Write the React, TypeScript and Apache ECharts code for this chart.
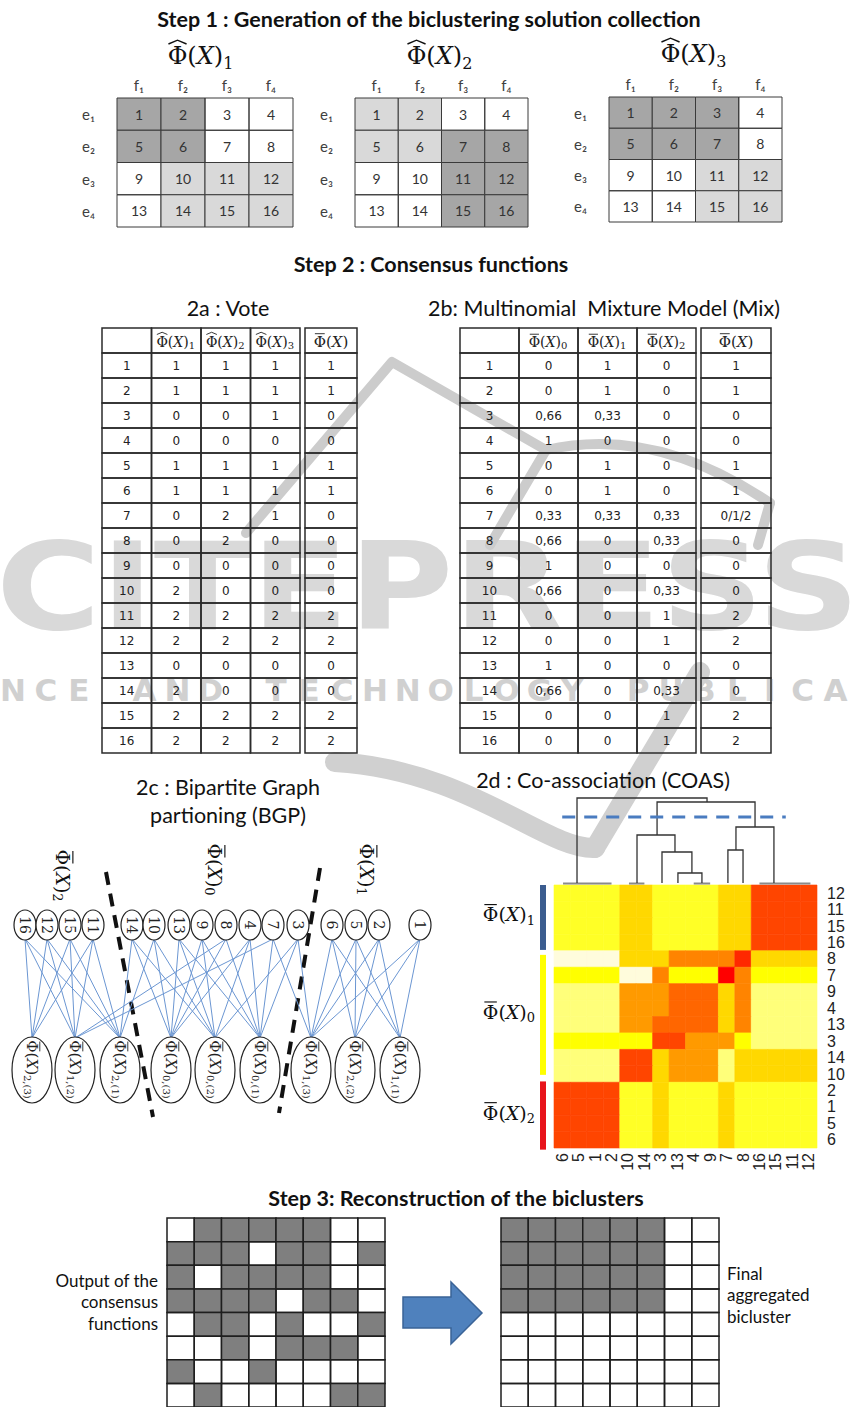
import React, { useEffect, useRef } from "react";
import * as echarts from "echarts";

const W = 850;
const H = 1407;

const FONT_UI = "Lato, 'Open Sans', sans-serif";
const FONT_SERIF = "'DejaVu Serif', 'Liberation Serif', serif";
const FONT_TABLE = "'DejaVu Sans', Verdana, sans-serif";
const FONT_NUM = "'Liberation Sans', Arial, sans-serif";

// ---------- Step 1 : biclustering solutions ----------
const elements = ["1", "2", "3", "4", "5", "6", "7", "8", "9", "10", "11", "12", "13", "14", "15", "16"];
const featureLabels = ["f₁", "f₂", "f₃", "f₄"];
const objectLabels = ["e₁", "e₂", "e₃", "e₄"];
const vote1 = [1, 1, 0, 0, 1, 1, 0, 0, 0, 2, 2, 2, 0, 2, 2, 2];
const vote2 = [1, 1, 0, 0, 1, 1, 2, 2, 0, 0, 2, 2, 0, 0, 2, 2];
const vote3 = [1, 1, 1, 0, 1, 1, 1, 0, 0, 0, 2, 2, 0, 0, 2, 2];
const voteResult = ["1", "1", "0", "0", "1", "1", "0", "0", "0", "0", "2", "2", "0", "0", "2", "2"];
const CLEAR = "rgba(255,255,255,0)";
const DARK = "#a6a6a6";
const LIGHT = "#d9d9d9";
const step1Shades = [
  [CLEAR, DARK, LIGHT],
  [CLEAR, LIGHT, DARK],
  [CLEAR, DARK, LIGHT],
];

// ---------- Step 2b : mixture model ----------
const mix0 = ["0", "0", "0,66", "1", "0", "0", "0,33", "0,66", "1", "0,66", "0", "0", "1", "0,66", "0", "0"];
const mix1 = ["1", "1", "0,33", "0", "1", "1", "0,33", "0", "0", "0", "0", "0", "0", "0", "0", "0"];
const mix2 = ["0", "0", "0", "0", "0", "0", "0,33", "0,33", "0", "0,33", "1", "1", "0", "0,33", "1", "1"];
const mixResult = ["1", "1", "0", "0", "1", "1", "0/1/2", "0", "0", "0", "2", "2", "0", "0", "2", "2"];

// ---------- Step 2d : co-association heatmap ----------
const coasColLabels = ["6", "5", "1", "2", "10", "14", "3", "13", "4", "9", "7", "8", "16", "15", "11", "12"];
const coasRowLabels = ["12", "11", "15", "16", "8", "7", "9", "4", "13", "3", "14", "10", "2", "1", "5", "6"];
const coasLevels = [
  "YYYYGGYYYYGGRRRR",
  "YYYYGGYYYYGGRRRR",
  "YYYYGGYYYYGGRRRR",
  "YYYYGGYYYYGGRRRR",
  "PPPPGGGQQQQSGGGG",
  "BBBBPPQBBBXQBBBB",
  "LLLLOOODDDGQLLLL",
  "LLLLOOODDDGQLLLL",
  "LLLLOODDDDGQLLLL",
  "BBBBBBRROOOBLLLL",
  "LLLLRRGOOOLGGGGG",
  "LLLLRRGOOOLGGGGG",
  "RRRRYYGYYYGYYYYY",
  "RRRRYYGYYYGYYYYY",
  "RRRRYYGYYYGYYYYY",
  "RRRRYYGYYYGYYYYY",
];
const coasPalette: Record<string, string> = {
  P: "#fffcdc",
  L: "#ffff7a",
  Y: "#ffff26",
  B: "#ffff00",
  G: "#ffd800",
  O: "#ff9a00",
  Q: "#ff8400",
  D: "#ff6600",
  R: "#ff4500",
  S: "#ff2800",
  X: "#ff0000",
};
// dendrogram links: [xLeft, xRight, heightTop, heightLeft, heightRight] (x in column units)
const dendroLinks = [
  [1.4, 9.31, 87, 2, 83],
  [6.27, 12.23, 83, 50, 58],
  [5.05, 7.36, 50, 2, 33],
  [6.57, 8.39, 33, 2, 12],
  [7.54, 9.0, 12, 2, 2],
  [10.58, 11.5, 35, 2, 2],
  [11.07, 13.38, 58, 35, 2],
];
const dendroLeafBars = [
  [0.55, 3.5],
  [4.56, 5.5],
  [8.5, 9.5],
  [12.5, 15.6],
];
const dendroCut = [0.5, 14.1, 68];
// cluster bands along rows: [start, end, colour, consensus index]
const clusterBands: [number, number, string, string][] = [
  [0, 3.95, "#3b5c8f", "1"],
  [4.25, 11.55, "#ffff00", "0"],
  [11.95, 16.1, "#e8141c", "2"],
];

// ---------- Step 2c : bipartite graph ----------
const topNodeOrder = [16, 12, 15, 11, 14, 10, 13, 9, 8, 4, 7, 3, 6, 5, 2, 1];
const topNodeX = [25, 47, 70, 93, 132, 154, 179, 202, 226, 250, 273, 298, 332, 356, 379, 420];
// bottom nodes: [solution (0-based), cluster, x, label subscript]
const bottomNodes: [number, number, number, string][] = [
  [2, 2, 32, "2,(3)"],
  [1, 2, 75, "1,(2)"],
  [0, 2, 120, "2,(1)"],
  [2, 0, 171, "0,(3)"],
  [1, 0, 215, "0,(2)"],
  [0, 0, 260, "0,(1)"],
  [2, 1, 311, "1,(3)"],
  [1, 1, 355, "2,(2)"],
  [0, 1, 400, "1,(1)"],
];

// ---------- Step 3 ----------
const consensusMatrix = [
  [0, 1, 1, 1, 1, 1, 0, 0],
  [1, 1, 1, 0, 1, 1, 0, 1],
  [1, 0, 1, 1, 1, 1, 0, 0],
  [1, 1, 1, 1, 0, 1, 1, 0],
  [0, 1, 1, 0, 1, 0, 0, 1],
  [0, 0, 1, 0, 1, 1, 1, 0],
  [1, 0, 0, 1, 0, 0, 0, 0],
  [0, 1, 0, 0, 0, 0, 1, 1],
];
const finalMatrix = [
  [1, 1, 1, 1, 1, 1, 0, 0],
  [1, 1, 1, 1, 1, 1, 0, 0],
  [1, 1, 1, 1, 1, 1, 0, 0],
  [1, 1, 1, 1, 1, 1, 0, 0],
  [0, 0, 0, 0, 0, 0, 0, 0],
  [0, 0, 0, 0, 0, 0, 0, 0],
  [0, 0, 0, 0, 0, 0, 0, 0],
  [0, 0, 0, 0, 0, 0, 0, 0],
];

// ---------- helpers ----------
let measureCtx: CanvasRenderingContext2D | null = null;
function tw(text: string, size: number, style = "normal") {
  if (!measureCtx) measureCtx = document.createElement("canvas").getContext("2d");
  if (!measureCtx) return text.length * size * 0.6;
  measureCtx.font = `${style} ${size}px ${FONT_SERIF}`;
  return measureCtx.measureText(text).width;
}

type PhiSpec = { mark: "hat" | "bar"; sub: string; size: number; color?: string; align?: "left" | "center" | "right" };

function phiParts(p: PhiSpec) {
  const color = p.color || "#222";
  const size = p.size;
  const subSize = Math.round(size * 0.68);
  const wPhi = tw("Φ", size);
  const total = wPhi + tw("(", size) + tw("X", size, "italic") + tw(")", size) + (p.sub ? tw(p.sub, subSize) + 1 : 0);
  const align = p.align || "center";
  const x0 = align === "center" ? -total / 2 : align === "right" ? -total : 0;
  const lh = Math.round(size * 1.3);
  const text = p.sub ? `{a|Φ(}{i|X}{a|)}{s|${p.sub}}` : `{a|Φ(}{i|X}{a|)}`;
  const rich = {
    a: { fontFamily: FONT_SERIF, fontSize: size, fill: color, lineHeight: lh },
    i: { fontFamily: FONT_SERIF, fontStyle: "italic", fontSize: size, fill: color, lineHeight: lh },
    s: { fontFamily: FONT_SERIF, fontSize: subSize, fill: color, verticalAlign: "bottom", lineHeight: subSize },
  };
  const cx = x0 + wPhi / 2;
  const lw = Math.max(0.9, size * 0.06);
  const markEl =
    p.mark === "hat"
      ? {
          type: "polyline",
          shape: { points: [[cx - wPhi * 0.46, -size * 0.5], [cx, -size * 0.66], [cx + wPhi * 0.46, -size * 0.5]] },
          style: { stroke: color, lineWidth: lw, fill: "none" },
        }
      : {
          type: "line",
          shape: { x1: cx - wPhi * 0.4, y1: -size * 0.52, x2: cx + wPhi * 0.4, y2: -size * 0.52 },
          style: { stroke: color, lineWidth: lw },
        };
  return [
    { type: "text", x: x0, y: 0, style: { text, rich, textAlign: "left", textVerticalAlign: "middle" } },
    markEl,
  ];
}

type Cell = { col: number; row: number; text?: string; phi?: PhiSpec; fill?: string };

function catAxis(data: string[], extra: any = {}) {
  return {
    type: "category",
    data,
    axisLine: { show: false },
    axisTick: { show: false },
    splitLine: { show: false },
    axisLabel: { show: false },
    ...extra,
  };
}
function valAxis(min: number, max: number, inverse = false) {
  return { type: "value", min, max, inverse, show: false, splitLine: { show: false } };
}

function cellSeries(gi: number, cells: Cell[], st: { stroke: string; lw: number; fontSize: number; fontFamily: string; color?: string }) {
  return {
    type: "custom",
    coordinateSystem: "cartesian2d",
    xAxisIndex: gi,
    yAxisIndex: gi,
    silent: true,
    data: cells.map((c) => [c.col, c.row]),
    renderItem: (params: any, api: any) => {
      const c = cells[params.dataIndex];
      const p = api.coord([api.value(0), api.value(1)]);
      const s = api.size([1, 1]);
      const children: any[] = [
        {
          type: "rect",
          shape: { x: p[0] - s[0] / 2, y: p[1] - s[1] / 2, width: s[0], height: s[1] },
          style: { fill: c.fill || CLEAR, stroke: st.stroke, lineWidth: st.lw },
        },
      ];
      if (c.phi) {
        children.push({ type: "group", x: p[0], y: p[1] + 1, children: phiParts(c.phi) });
      } else if (c.text) {
        children.push({
          type: "text",
          x: p[0],
          y: p[1],
          style: {
            text: c.text,
            textAlign: "center",
            textVerticalAlign: "middle",
            fontSize: st.fontSize,
            fontFamily: st.fontFamily,
            fill: st.color || "#222",
          },
        });
      }
      return { type: "group", children };
    },
  };
}

function buildOption() {
  const grids: any[] = [];
  const xAxes: any[] = [];
  const yAxes: any[] = [];
  const series: any[] = [];
  const addGrid = (rect: any, xa: any, ya: any) => {
    const idx = grids.length;
    grids.push({ ...rect, containLabel: false, show: false });
    xAxes.push({ ...xa, gridIndex: idx });
    yAxes.push({ ...ya, gridIndex: idx });
    return idx;
  };

  // ----- Step 1 tables -----
  const step1Rects = [
    { left: 117, top: 98, width: 176, height: 129 },
    { left: 355, top: 98, width: 173, height: 129 },
    { left: 609, top: 97, width: 173, height: 125 },
  ];
  const step1Votes = [vote1, vote2, vote3];
  step1Rects.forEach((r, t) => {
    const gi = addGrid(
      r,
      catAxis(featureLabels, {
        position: "top",
        axisLabel: { show: true, margin: 6, fontSize: 15, fontFamily: FONT_UI, color: "#404040" },
      }),
      catAxis(objectLabels, {
        inverse: true,
        axisLabel: { show: true, margin: 22, fontSize: 15, fontFamily: FONT_UI, color: "#404040" },
      })
    );
    const cells: Cell[] = elements.map((e, i) => ({
      col: i % 4,
      row: Math.floor(i / 4),
      text: e,
      fill: step1Shades[t][step1Votes[t][i]],
    }));
    series.push(cellSeries(gi, cells, { stroke: "#3a3a3a", lw: 1, fontSize: 14, fontFamily: FONT_UI, color: "#333" }));
  });

  // ----- Vote table -----
  const rowsCat = ["h", ...elements];
  {
    const gi = addGrid({ left: 102, top: 328, width: 198, height: 425 }, catAxis(["id", "s1", "s2", "s3"]), catAxis(rowsCat, { inverse: true }));
    const cells: Cell[] = [{ col: 0, row: 0 }];
    ["1", "2", "3"].forEach((sub, k) => {
      cells.push({ col: k + 1, row: 0, phi: { mark: "hat", sub, size: 14 } });
    });
    elements.forEach((e, i) => {
      cells.push({ col: 0, row: i + 1, text: e });
      cells.push({ col: 1, row: i + 1, text: String(vote1[i]) });
      cells.push({ col: 2, row: i + 1, text: String(vote2[i]) });
      cells.push({ col: 3, row: i + 1, text: String(vote3[i]) });
    });
    series.push(cellSeries(gi, cells, { stroke: "#2b2b2b", lw: 1.5, fontSize: 12, fontFamily: FONT_TABLE }));
    const gr = addGrid({ left: 305, top: 328, width: 52, height: 425 }, catAxis(["r"]), catAxis(rowsCat, { inverse: true }));
    const rc: Cell[] = [{ col: 0, row: 0, phi: { mark: "bar", sub: "", size: 15 } }];
    voteResult.forEach((v, i) => rc.push({ col: 0, row: i + 1, text: v }));
    series.push(cellSeries(gr, rc, { stroke: "#2b2b2b", lw: 1.5, fontSize: 12, fontFamily: FONT_TABLE }));
  }

  // ----- Mix table -----
  {
    const gi = addGrid({ left: 460, top: 328, width: 236, height: 425 }, catAxis(["id", "c0", "c1", "c2"]), catAxis(rowsCat, { inverse: true }));
    const cells: Cell[] = [{ col: 0, row: 0 }];
    ["0", "1", "2"].forEach((sub, k) => {
      cells.push({ col: k + 1, row: 0, phi: { mark: "bar", sub, size: 14 } });
    });
    elements.forEach((e, i) => {
      cells.push({ col: 0, row: i + 1, text: e });
      cells.push({ col: 1, row: i + 1, text: mix0[i] });
      cells.push({ col: 2, row: i + 1, text: mix1[i] });
      cells.push({ col: 3, row: i + 1, text: mix2[i] });
    });
    series.push(cellSeries(gi, cells, { stroke: "#2b2b2b", lw: 1.5, fontSize: 12, fontFamily: FONT_TABLE }));
    const gr = addGrid({ left: 701, top: 328, width: 70, height: 425 }, catAxis(["r"]), catAxis(rowsCat, { inverse: true }));
    const rc: Cell[] = [{ col: 0, row: 0, phi: { mark: "bar", sub: "", size: 15 } }];
    mixResult.forEach((v, i) => rc.push({ col: 0, row: i + 1, text: v }));
    series.push(cellSeries(gr, rc, { stroke: "#2b2b2b", lw: 1.5, fontSize: 12, fontFamily: FONT_TABLE }));
  }

  // ----- COAS heatmap -----
  {
    const gi = addGrid(
      { left: 554, top: 885, width: 263, height: 263 },
      catAxis(coasColLabels, {
        position: "bottom",
        axisLabel: { show: true, rotate: 90, interval: 0, margin: 5, fontSize: 16, fontFamily: FONT_NUM, color: "#222" },
      }),
      catAxis(coasRowLabels, {
        position: "right",
        inverse: true,
        axisLabel: { show: true, interval: 0, margin: 10, fontSize: 16, fontFamily: FONT_NUM, color: "#222" },
      })
    );
    const cells: { col: number; row: number; fill: string }[] = [];
    coasLevels.forEach((rowStr, r) => {
      rowStr.split("").forEach((ch, c) => cells.push({ col: c, row: r, fill: coasPalette[ch] }));
    });
    series.push({
      type: "custom",
      xAxisIndex: gi,
      yAxisIndex: gi,
      silent: true,
      data: cells.map((c) => [c.col, c.row]),
      renderItem: (params: any, api: any) => {
        const c = cells[params.dataIndex];
        const p = api.coord([api.value(0), api.value(1)]);
        const s = api.size([1, 1]);
        return {
          type: "rect",
          shape: { x: p[0] - s[0] / 2, y: p[1] - s[1] / 2, width: s[0], height: s[1] },
          style: { fill: c.fill, stroke: c.fill, lineWidth: 0.6 },
        };
      },
    });
  }

  // ----- Dendrogram -----
  {
    const gi = addGrid({ left: 554, top: 785, width: 263, height: 100 }, valAxis(0, 16), valAxis(0, 100));
    series.push({
      type: "custom",
      xAxisIndex: gi,
      yAxisIndex: gi,
      silent: true,
      data: dendroLeafBars,
      renderItem: (params: any, api: any) => {
        const a = api.coord([api.value(0), 1.5]);
        const b = api.coord([api.value(1), 1.5]);
        return { type: "line", shape: { x1: a[0], y1: a[1], x2: b[0], y2: b[1] }, style: { stroke: "#8a8a8a", lineWidth: 2 } };
      },
    });
    series.push({
      type: "custom",
      xAxisIndex: gi,
      yAxisIndex: gi,
      silent: true,
      data: dendroLinks,
      renderItem: (params: any, api: any) => {
        const x1 = api.value(0), x2 = api.value(1), top = api.value(2), h1 = api.value(3), h2 = api.value(4);
        const pts = [api.coord([x1, h1]), api.coord([x1, top]), api.coord([x2, top]), api.coord([x2, h2])];
        return { type: "polyline", shape: { points: pts }, style: { stroke: "#333", lineWidth: 1.3, fill: "none" } };
      },
    });
    series.push({
      type: "custom",
      xAxisIndex: gi,
      yAxisIndex: gi,
      silent: true,
      data: [dendroCut],
      renderItem: (params: any, api: any) => {
        const a = api.coord([api.value(0), api.value(2)]);
        const b = api.coord([api.value(1), api.value(2)]);
        return { type: "line", shape: { x1: a[0], y1: a[1], x2: b[0], y2: b[1] }, style: { stroke: "#4a7cc0", lineWidth: 3, lineDash: [13, 9] } };
      },
    });
  }

  // ----- Cluster bands + labels -----
  {
    const gi = addGrid({ left: 540, top: 885, width: 6, height: 263 }, valAxis(0, 1), valAxis(0, 16, true));
    series.push({
      type: "custom",
      xAxisIndex: gi,
      yAxisIndex: gi,
      silent: true,
      data: clusterBands.map((b) => [b[0], b[1]]),
      renderItem: (params: any, api: any) => {
        const b = clusterBands[params.dataIndex];
        const p0 = api.coord([0, api.value(0)]);
        const p1 = api.coord([1, api.value(1)]);
        return {
          type: "group",
          children: [
            { type: "rect", shape: { x: p0[0], y: p0[1], width: p1[0] - p0[0], height: p1[1] - p0[1] }, style: { fill: b[2] } },
            {
              type: "group",
              x: p0[0] - 4,
              y: (p0[1] + p1[1]) / 2 - 3,
              children: phiParts({ mark: "bar", sub: b[3], size: 19, align: "right", color: "#111" }),
            },
          ],
        };
      },
    });
  }

  // ----- Bipartite graph -----
  {
    const gi = addGrid({ left: 0, top: 840, width: 440, height: 300 }, valAxis(0, 440), valAxis(840, 1140, true));
    const votes = [vote1, vote2, vote3];
    const TOP_Y = 925, TOP_RX = 11, TOP_RY = 15;
    const BOT_Y = 1070, BOT_RX = 20, BOT_RY = 33;
    const edges: number[][] = [];
    topNodeOrder.forEach((el, k) => {
      for (let s = 0; s < 3; s++) {
        const cl = votes[s][el - 1];
        const b = bottomNodes.find((n) => n[0] === s && n[1] === cl)!;
        edges.push([topNodeX[k], TOP_Y + TOP_RY - 1, b[2], BOT_Y - BOT_RY + 1]);
      }
    });
    series.push({
      type: "custom",
      xAxisIndex: gi,
      yAxisIndex: gi,
      silent: true,
      data: edges,
      renderItem: (params: any, api: any) => {
        const a = api.coord([api.value(0), api.value(1)]);
        const b = api.coord([api.value(2), api.value(3)]);
        return { type: "line", shape: { x1: a[0], y1: a[1], x2: b[0], y2: b[1] }, style: { stroke: "#6b96d2", lineWidth: 1 } };
      },
    });
    series.push({
      type: "custom",
      xAxisIndex: gi,
      yAxisIndex: gi,
      silent: true,
      data: topNodeX.map((x) => [x, TOP_Y]),
      renderItem: (params: any, api: any) => {
        const p = api.coord([api.value(0), api.value(1)]);
        return {
          type: "group",
          children: [
            { type: "ellipse", shape: { cx: p[0], cy: p[1], rx: TOP_RX, ry: TOP_RY }, style: { fill: "#fff", stroke: "#222", lineWidth: 1.2 } },
            {
              type: "text",
              x: p[0],
              y: p[1],
              rotation: -Math.PI / 2,
              style: { text: String(topNodeOrder[params.dataIndex]), textAlign: "center", textVerticalAlign: "middle", fontSize: 14, fontFamily: FONT_SERIF, fill: "#222" },
            },
          ],
        };
      },
    });
    series.push({
      type: "custom",
      xAxisIndex: gi,
      yAxisIndex: gi,
      silent: true,
      data: bottomNodes.map((n) => [n[2], BOT_Y]),
      renderItem: (params: any, api: any) => {
        const p = api.coord([api.value(0), api.value(1)]);
        return {
          type: "group",
          children: [
            { type: "ellipse", shape: { cx: p[0], cy: p[1], rx: BOT_RX, ry: BOT_RY }, style: { fill: "#fff", stroke: "#222", lineWidth: 1.2 } },
            {
              type: "group",
              x: p[0],
              y: p[1],
              rotation: -Math.PI / 2,
              children: phiParts({ mark: "bar", sub: bottomNodes[params.dataIndex][3], size: 15, color: "#222" }),
            },
          ],
        };
      },
    });
  }

  // ----- Step 3 grids -----
  const step3 = (rect: any, m: number[][]) => {
    const idx8 = ["0", "1", "2", "3", "4", "5", "6", "7"];
    const gi = addGrid(rect, catAxis(idx8), catAxis(idx8, { inverse: true }));
    const cells: Cell[] = [];
    m.forEach((row, r) => row.forEach((v, c) => cells.push({ col: c, row: r, fill: v ? "#7f7f7f" : CLEAR })));
    series.push(cellSeries(gi, cells, { stroke: "#1e1e1e", lw: 1.5, fontSize: 12, fontFamily: FONT_UI }));
  };
  step3({ left: 167, top: 1218, width: 218, height: 192 }, consensusMatrix);
  step3({ left: 501, top: 1218, width: 218, height: 192 }, finalMatrix);

  // ----- graphic: watermark, titles, annotations -----
  const g: any[] = [];
  const wmColor = "#d9d9d9";
  g.push({
    type: "text",
    x: -4,
    y: 587,
    scaleX: 1.17,
    z: -10,
    silent: true,
    style: { text: "CITEPRESS", fontSize: 122, fontWeight: "bold", fontFamily: "'DejaVu Sans', sans-serif", fill: wmColor, textAlign: "left", textVerticalAlign: "middle" },
  });
  const tagline = "SCIENCE AND TECHNOLOGY PUBLICATIONS";
  tagline.split("").forEach((ch, i) => {
    if (ch === " ") return;
    g.push({
      type: "text",
      x: -118.6 + i * 32.9,
      y: 690,
      z: -10,
      silent: true,
      style: { text: ch, fontSize: 31, fontWeight: "bold", fontFamily: "'DejaVu Sans', sans-serif", fill: "#d0d0d0", textAlign: "center", textVerticalAlign: "middle" },
    });
  });
  const wmLine = { stroke: "#cccccc", lineWidth: 10, fill: "none", lineJoin: "round", lineCap: "round" };
  g.push({ type: "polyline", z: -10, silent: true, shape: { points: [[246, 533], [392, 362], [546, 450]] }, style: wmLine });
  g.push({ type: "bezierCurve", z: -10, silent: true, shape: { x1: 546, y1: 450, x2: 770, y2: 503, cpx1: 655, cpy1: 425 }, style: wmLine });
  g.push({ type: "line", z: -10, silent: true, shape: { x1: 770, y1: 503, x2: 758, y2: 545 }, style: wmLine });
  g.push({ type: "line", z: -10, silent: true, shape: { x1: 546, y1: 450, x2: 490, y2: 545 }, style: wmLine });
  const vStyle = { stroke: "#d0d0d0", lineWidth: 20, fill: "none", lineCap: "round" };
  g.push({
    type: "bezierCurve",
    z: -10,
    silent: true,
    shape: { x1: 335, y1: 762, cpx1: 470, cpy1: 770, cpx2: 545, cpy2: 850, x2: 595, y2: 848 },
    style: vStyle,
  });
  g.push({ type: "line", z: -10, silent: true, shape: { x1: 595, y1: 848, x2: 700, y2: 672 }, style: vStyle });

  const title = (text: string, x: number, y: number, size: number, bold = false, align = "center") => ({
    type: "text",
    x,
    y,
    style: { text, fontSize: size, fontWeight: bold ? "bold" : "normal", fontFamily: FONT_UI, fill: "#111", textAlign: align, textVerticalAlign: "middle" },
  });
  g.push(title("Step 1 : Generation of the biclustering solution collection", 429, 19, 21.5, true));
  g.push(title("Step 2 : Consensus functions", 431, 264, 21.5, true));
  g.push(title("Step 3: Reconstruction of the biclusters", 456, 1198, 21.5, true));
  g.push(title("2a : Vote", 228, 308, 21.5));
  g.push(title("2b: Multinomial  Mixture Model (Mix)", 604, 308, 21.5));
  g.push(title("2c : Bipartite Graph", 228, 787, 21.5));
  g.push(title("partioning (BGP)", 228, 815, 21.5));
  g.push(title("2d : Co-association (COAS)", 603, 780, 21.5));

  ([["1", 201, 56], ["2", 440, 56], ["3", 694, 54]] as [string, number, number][]).forEach(([sub, x, y]) => {
    g.push({ type: "group", x, y, children: phiParts({ mark: "hat", sub, size: 24, color: "#111" }) });
  });

  ([["2", 63, 876], ["0", 215, 870], ["1", 367, 870]] as [string, number, number][]).forEach(([sub, x, y]) => {
    g.push({ type: "group", x, y, rotation: -Math.PI / 2, children: phiParts({ mark: "bar", sub, size: 19, color: "#111" }) });
  });

  g.push({ type: "line", shape: { x1: 106, y1: 872, x2: 153, y2: 1117 }, style: { stroke: "#111", lineWidth: 4, lineDash: [13, 9] } });
  g.push({ type: "line", shape: { x1: 320, y1: 868, x2: 279, y2: 1113 }, style: { stroke: "#111", lineWidth: 4, lineDash: [13, 9] } });

  ["Output of the", "consensus", "functions"].forEach((t, i) => g.push(title(t, 158, 1280 + i * 21.5, 17, false, "right")));
  ["Final", "aggregated", "bicluster"].forEach((t, i) => g.push(title(t, 727, 1273 + i * 21.5, 17, false, "left")));

  g.push({
    type: "polygon",
    shape: { points: [[403, 1297], [451, 1297], [451, 1282], [482, 1313], [451, 1344], [451, 1328], [403, 1328]] },
    style: { fill: "#4f81bd", stroke: "#3a6397", lineWidth: 1.5 },
  });

  return {
    animation: false,
    backgroundColor: "#ffffff",
    grid: grids,
    xAxis: xAxes,
    yAxis: yAxes,
    series,
    graphic: { elements: g },
  };
}

export default function App() {
  const ref = useRef<HTMLDivElement>(null);
  useEffect(() => {
    document.body.style.margin = "0";
    const chart = echarts.init(ref.current!, null, { renderer: "svg", width: W, height: H });
    chart.setOption(buildOption() as any);
    return () => chart.dispose();
  }, []);
  return <div ref={ref} style={{ position: "absolute", left: 0, top: 0, width: W, height: H, background: "#fff" }} />;
}
